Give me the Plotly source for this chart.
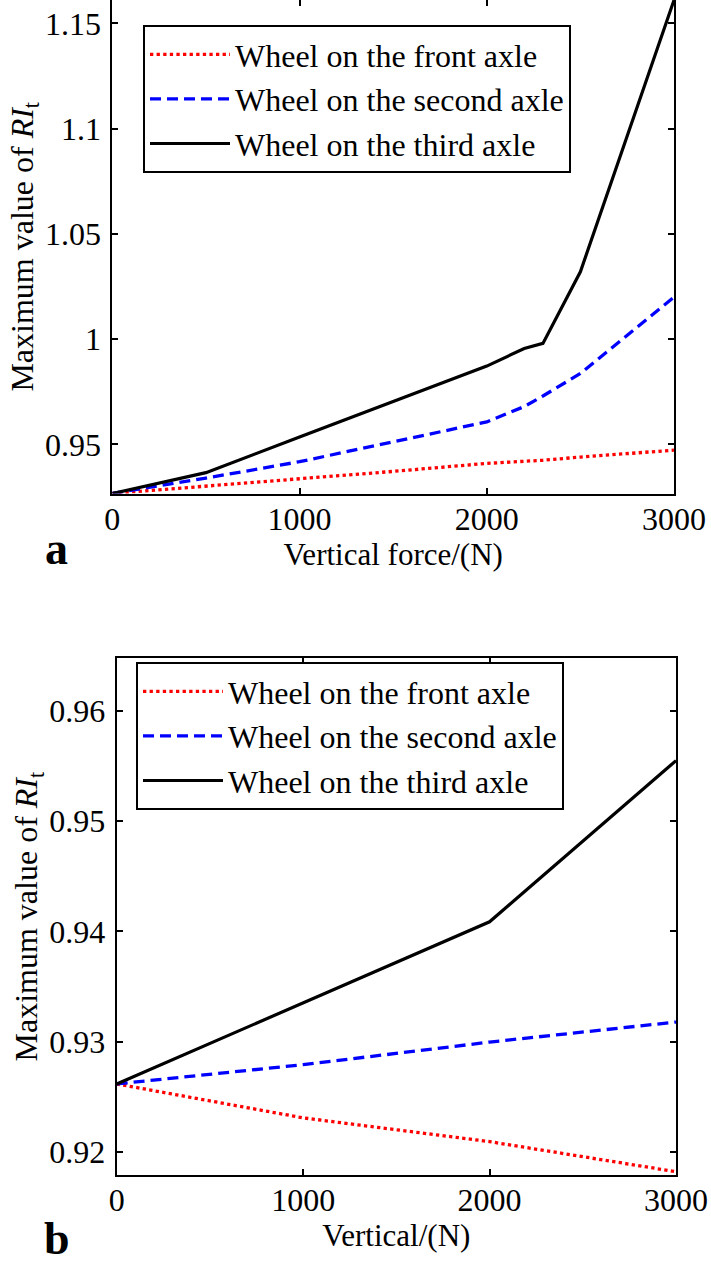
import plotly.graph_objects as go

# ---- data: panel a ----
force_a = [0, 500, 1000, 1500, 2000, 2200, 2300, 2500, 3000]
front_a = [0.9267, 0.9302, 0.9334, 0.9372, 0.9410, 0.9420, 0.9425, 0.9440, 0.9473]
second_a = [0.9267, 0.9340, 0.9418, 0.9513, 0.9607, 0.9680, 0.9730, 0.9837, 1.0200]
third_a = [0.9267, 0.9366, 0.9535, 0.9703, 0.9872, 0.9956, 0.9980, 1.0320, 1.1610]

# ---- data: panel b ----
force_b = [0, 1000, 2000, 3000]
front_b = [0.92615, 0.92307, 0.92091, 0.91818]
second_b = [0.92615, 0.92790, 0.92995, 0.93177]
third_b = [0.92615, 0.93350, 0.94087, 0.95551]

names = ["Wheel on the front axle", "Wheel on the second axle", "Wheel on the third axle"]
colors = ["#ff0000", "#0000ff", "#000000"]
dashes = ["3.3px,3.3px", "11px,6px", "solid"]
widths = [3.3, 3.3, 3.2]

FONT = "Liberation Serif"

fig = go.Figure()
for i, ys in enumerate([front_a, second_a, third_a]):
    fig.add_trace(go.Scatter(x=force_a, y=ys, mode="lines", name=names[i],
                             line=dict(color=colors[i], dash=dashes[i], width=widths[i]),
                             xaxis="x", yaxis="y", legend="legend"))
for i, ys in enumerate([front_b, second_b, third_b]):
    fig.add_trace(go.Scatter(x=force_b, y=ys, mode="lines", name=names[i],
                             line=dict(color=colors[i], dash=dashes[i], width=widths[i]),
                             xaxis="x2", yaxis="y2", legend="legend2"))

W, H = 711, 1270
ax_common = dict(showgrid=False, zeroline=False, showline=True, linecolor="black",
                 linewidth=2, mirror="ticks", ticks="inside", ticklen=6, tickwidth=1.5,
                 tickcolor="black", automargin=False,
                 tickfont=dict(family=FONT, size=32, color="black"))

ytitle = dict(text="Maximum value of <i>RI</i><sub>t</sub>",
              font=dict(family=FONT, size=32, color="black"), standoff=2)
leg_common = dict(xanchor="left", yanchor="top", bgcolor="white", bordercolor="black",
                  borderwidth=2, font=dict(family=FONT, size=32, color="black"),
                  itemwidth=80, tracegroupgap=0)

fig.update_layout(
    width=W, height=H, autosize=False,
    margin=dict(l=0, r=0, t=0, b=0, pad=0, autoexpand=False),
    paper_bgcolor="white", plot_bgcolor="white",
    xaxis=dict(domain=[112.3 / W, 674 / W], range=[0, 3000], anchor="y",
               tickvals=[0, 1000, 2000, 3000], ticklabelstandoff=-4,
               title=dict(text="Vertical force/(N)", font=dict(family=FONT, size=31, color="black"), standoff=2),
               **ax_common),
    yaxis=dict(domain=[1 - 493.5 / H, 1.0], range=[0.9267, 1.1611], anchor="x",
               tickvals=[0.95, 1.0, 1.05, 1.1, 1.15], ticktext=["0.95", "1", "1.05", "1.1", "1.15"],
               ticklabelstandoff=3, title=ytitle, **ax_common),
    xaxis2=dict(domain=[116.7 / W, 676 / W], range=[0, 3000], anchor="y2",
                tickvals=[0, 1000, 2000, 3000], ticklabelstandoff=-4,
                title=dict(text="Vertical/(N)", font=dict(family=FONT, size=31, color="black"), standoff=2),
                **ax_common),
    yaxis2=dict(domain=[1 - 1175 / H, 1 - 658.3 / H], range=[0.91788, 0.9648], anchor="x2",
                tickvals=[0.92, 0.93, 0.94, 0.95, 0.96],
                ticklabelstandoff=3, title=ytitle, **ax_common),
    legend=dict(x=143 / W, y=1 - 25 / H, **leg_common),
    legend2=dict(x=136 / W, y=1 - 662 / H, **leg_common),
    annotations=[
        dict(text="<b>a</b>", x=56 / W, y=1 - 548 / H, xref="paper", yref="paper",
             xanchor="center", yanchor="middle",
             showarrow=False, font=dict(family=FONT, size=46, color="black")),
        dict(text="<b>b</b>", x=57 / W, y=1 - 1238 / H, xref="paper", yref="paper",
             xanchor="center", yanchor="middle",
             showarrow=False, font=dict(family=FONT, size=46, color="black")),
    ],
)

fig.write_html("out.html", config={"displayModeBar": False},
               post_script="document.body.style.margin='0';document.body.style.overflow='hidden';")
